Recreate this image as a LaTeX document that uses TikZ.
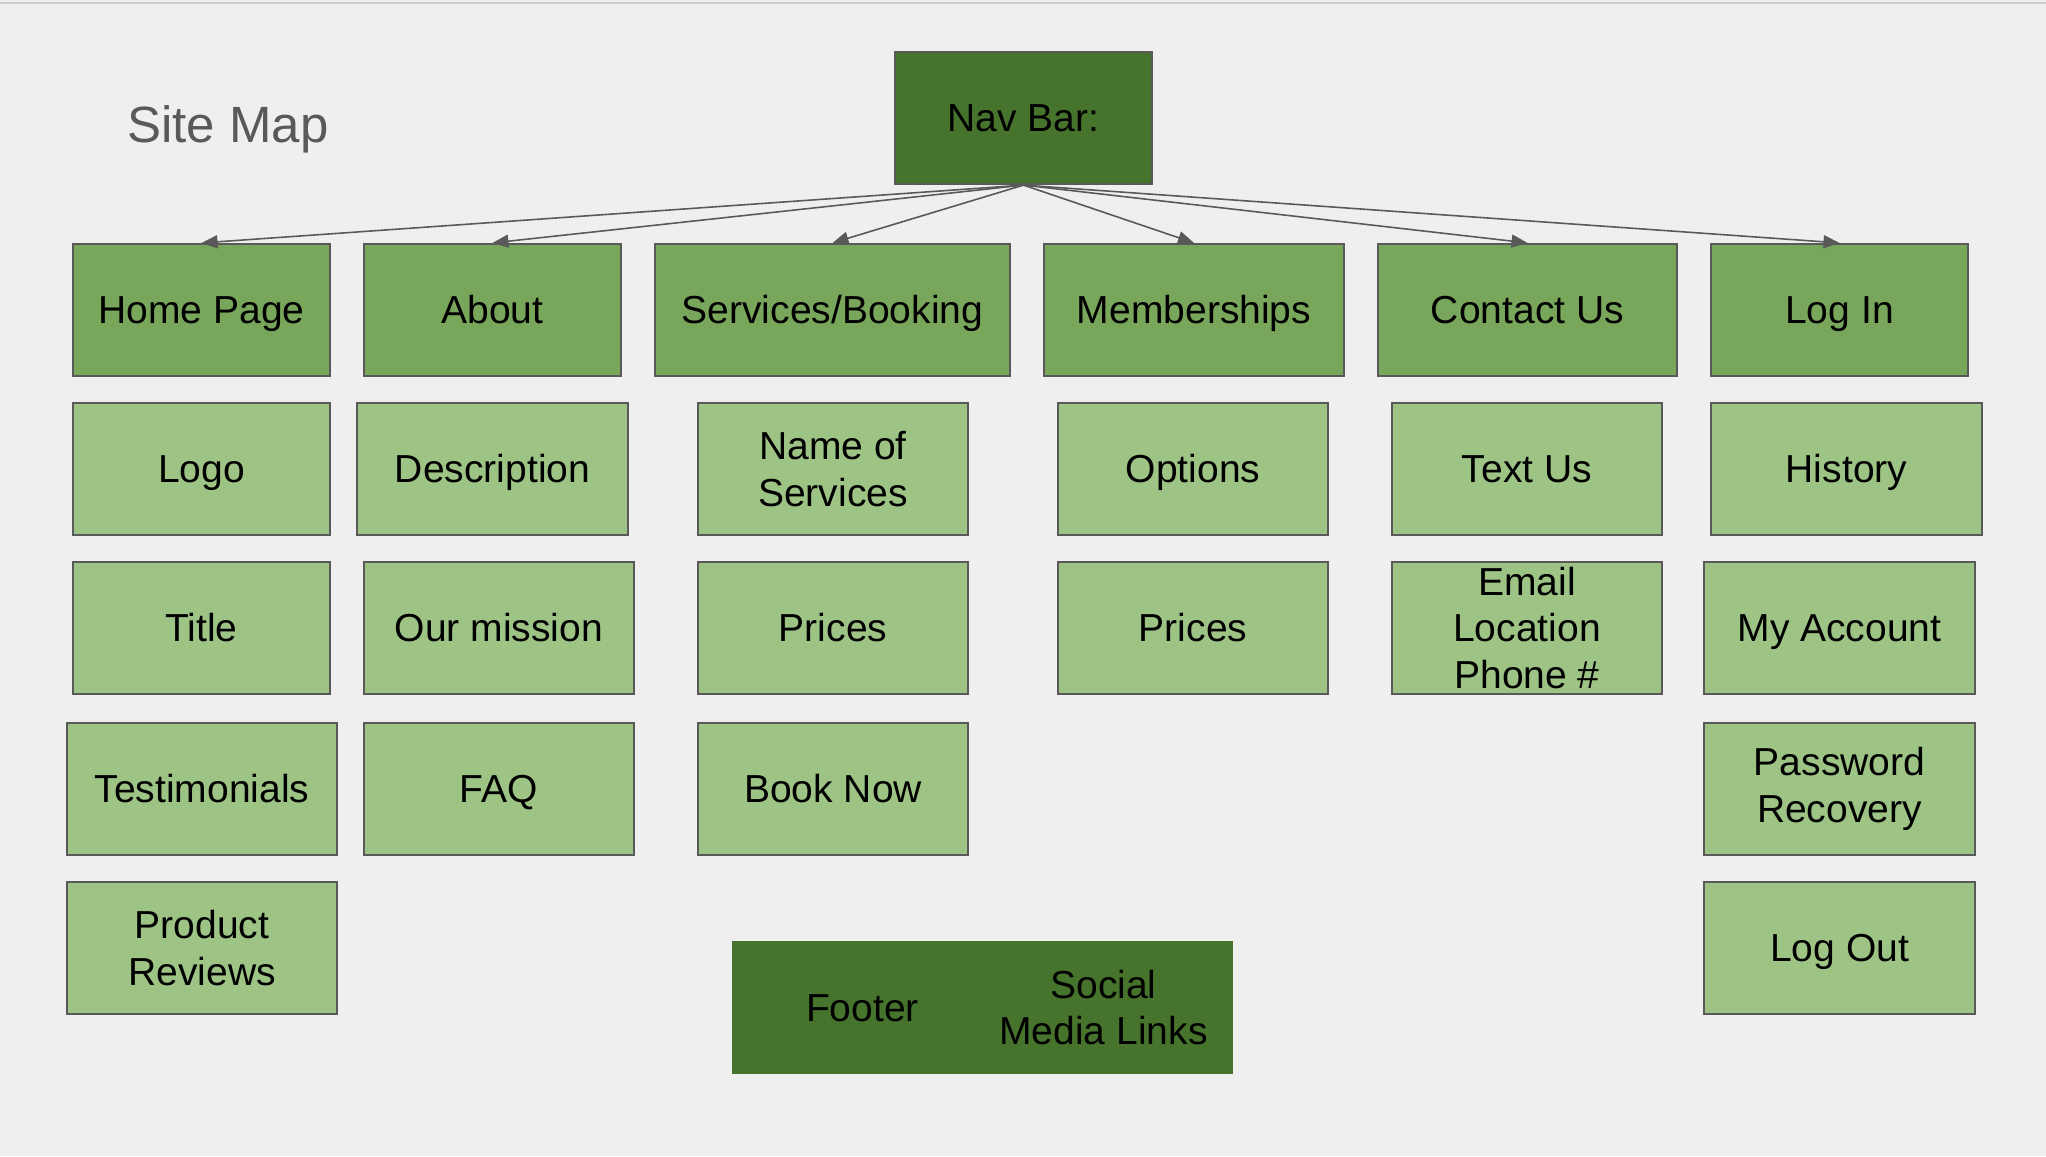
\documentclass[tikz,border=0pt]{standalone}
\usepackage{fontspec}
\setmainfont{Liberation Sans}
\usepackage{xcolor}
\usetikzlibrary{arrows.meta}

\definecolor{navgreen}{HTML}{46742C}
\definecolor{pagegreen}{HTML}{78A65A}
\definecolor{subgreen}{HTML}{9DC385}
\definecolor{linegray}{HTML}{595959}
\definecolor{bggray}{HTML}{EFEFEF}
\definecolor{rulegray}{HTML}{CCCCCC}

\begin{document}
\begin{tikzpicture}[x=0.01cm, y=-0.01cm,
    box/.style={rectangle, draw=linegray, line width=0.6pt, inner sep=0pt,
        minimum height=1.32cm, align=center, text height=9pt, text depth=1.3pt,
        font=\fontsize{11.1}{13.3}\selectfont},
    multi/.style={text height={}, text depth={}},
    pagebox/.style={box, fill=pagegreen},
    subbox/.style={box, fill=subgreen},
    navbox/.style={box, fill=navgreen},
    footbox/.style={box, fill=navgreen, draw=navgreen, line width=0.3pt, minimum height=1.31cm},
    arr/.style={draw=linegray, line width=0.45pt, -{Triangle[length=0.16cm, width=0.13cm]}}]
        \useasboundingbox (0,0) rectangle (2046,1156);
        \fill [bggray] (0,0) rectangle (2046,1156);
        \draw [rulegray, line width=0.6pt] (0,3) -- (2046,3);

        \node [anchor=base west, text=linegray, font=\fontsize{14.5}{17}\selectfont] (sitemap) at (115,142) {Site Map};

        \node [navbox, minimum width=2.57cm] (nav) at (1023.5,118) {Nav Bar:};

        % main pages
        \node [pagebox, minimum width=2.57cm] (home) at (201.5,310) {Home Page};
        \node [pagebox, minimum width=2.57cm] (about) at (492.5,310) {About};
        \node [pagebox, minimum width=3.55cm] (services) at (832.5,310) {Services/Booking};
        \node [pagebox, minimum width=3.00cm] (members) at (1194,310) {Memberships};
        \node [pagebox, minimum width=2.99cm] (contact) at (1527.5,310) {Contact Us};
        \node [pagebox, minimum width=2.57cm] (login) at (1839.5,310) {Log In};

        \foreach \p in {home, about, services, members, contact, login}
            \draw [arr] (nav.south) -- (\p.north);

        % contents of each page
        \node [subbox, minimum width=2.57cm] (logo) at (201.5,469) {Logo};
        \node [subbox, minimum width=2.57cm] (title) at (201.5,628) {Title};
        \node [subbox, minimum width=2.70cm] (testimonials) at (202,789) {Testimonials};
        \node [subbox, multi, minimum width=2.70cm] (reviews) at (202,948) {Product\\Reviews};

        \node [subbox, minimum width=2.71cm] (description) at (492.5,469) {Description};
        \node [subbox, minimum width=2.70cm] (mission) at (499,628) {Our mission};
        \node [subbox, minimum width=2.70cm] (faq) at (499,789) {FAQ};

        \node [subbox, multi, minimum width=2.70cm] (servnames) at (833,469) {Name of\\Services};
        \node [subbox, minimum width=2.70cm] (servprices) at (833,628) {Prices};
        \node [subbox, minimum width=2.70cm] (booknow) at (833,789) {Book Now};

        \node [subbox, minimum width=2.70cm] (options) at (1193,469) {Options};
        \node [subbox, minimum width=2.70cm] (memprices) at (1193,628) {Prices};

        \node [subbox, minimum width=2.70cm] (textus) at (1527,469) {Text Us};
        \node [subbox, multi, minimum width=2.70cm] (email) at (1527,628) {Email\\Location\\Phone \#};

        \node [subbox, minimum width=2.71cm] (history) at (1846.5,469) {History};
        \node [subbox, minimum width=2.71cm] (account) at (1839.5,628) {My Account};
        \node [subbox, multi, minimum width=2.71cm] (password) at (1839.5,789) {Password\\Recovery};
        \node [subbox, minimum width=2.71cm] (logout) at (1839.5,948) {Log Out};

        % footer
        \node [footbox, minimum width=2.59cm] (footer) at (862.5,1007.5) {Footer};
        \node [footbox, multi, minimum width=2.57cm] (social) at (1103.5,1007.5) {Social\\Media Links};
\end{tikzpicture}
\end{document}
